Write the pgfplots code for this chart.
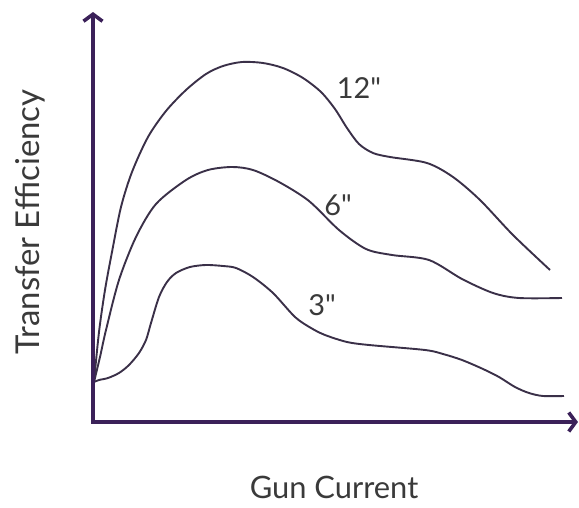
\documentclass[border=0pt]{standalone}
\usepackage{fontspec}
\setmainfont{Lato}[Ligatures=TeXOff]
\usepackage{pgfplots}
\pgfplotsset{compat=1.18}
\usetikzlibrary{arrows.meta}

\definecolor{axispurple}{HTML}{3B2159}
\definecolor{curvecol}{HTML}{3A3048}
\definecolor{textgray}{HTML}{3A3A3A}

\begin{document}
\begin{tikzpicture}
\useasboundingbox (-93bp,-86bp) rectangle (486bp,422bp);
\begin{axis}[
    at={(0,0)}, anchor=origin,
    x=1bp, y=1bp,
    xmin=0, xmax=485,
    ymin=0, ymax=410,
    axis lines=left,
    axis line style={draw=none},
    xtick=\empty, ytick=\empty,
    clip=false,
    font=\fontsize{31}{34}\selectfont,
    xlabel={Gun Current},
    ylabel={Transfer Efficiency},
    xlabel style={at={(rel axis cs:0.497,-0.159)}, anchor=center, text=textgray},
    ylabel style={at={(rel axis cs:-0.13,0.488)}, anchor=center, text=textgray, font=\fontsize{33}{36}\selectfont},
]

% 12 inch
\addplot[curvecol, line width=1.9bp, smooth] coordinates {
(1,40) (6,90) (12,132) (19,170) (28,215) (39,250) (55,285) (73,311) (93,332)
(113,348) (130,356) (149,360) (170,359) (190,354) (210,344) (228,330) (242,313)
(254,294) (266,278) (280,269) (297,265) (334,259) (360,245) (387,222) (420,187) (457,152)
};

% 6 inch
\addplot[curvecol, line width=1.9bp, smooth] coordinates {
(1,40) (7,65) (13,92) (26,142) (43,185) (63,218) (93,242) (115,252) (139,255)
(160,252) (186,240) (216,221) (246,192) (273,173) (299,167) (336,162) (369,143)
(400,129) (426,124) (469,124)
};

% 3 inch
\addplot[curvecol, line width=1.9bp, smooth] coordinates {
(1,40) (6,42) (15,44) (26,49) (36,57) (46,69) (53,82) (58,99) (66,125) (74,140)
(83,149) (97,155) (113,157) (130,156) (143,154) (160,145) (180,129) (202,105)
(218,94) (232,87) (254,80) (276,77) (332,72) (350,68) (369,62) (390,53) (406,45)
(422,35) (436,29) (450,26) (471,26)
};

\draw[axispurple, line width=3.6bp, line cap=butt, -{Straight Barb[length=7bp,width=19bp]}]
  (axis cs:0,-1.8) -- (axis cs:0,410);
\draw[axispurple, line width=3.6bp, line cap=butt, -{Straight Barb[length=7bp,width=19bp]}]
  (axis cs:-1.8,0) -- (axis cs:485,0);

\node[text=textgray, font=\fontsize{29}{32}\selectfont] at (axis cs:266,334) {12"};
\node[text=textgray, font=\fontsize{29}{32}\selectfont] at (axis cs:245,217) {6"};
\node[text=textgray, font=\fontsize{29}{32}\selectfont] at (axis cs:229,117) {3"};
\end{axis}
\end{tikzpicture}
\end{document}
